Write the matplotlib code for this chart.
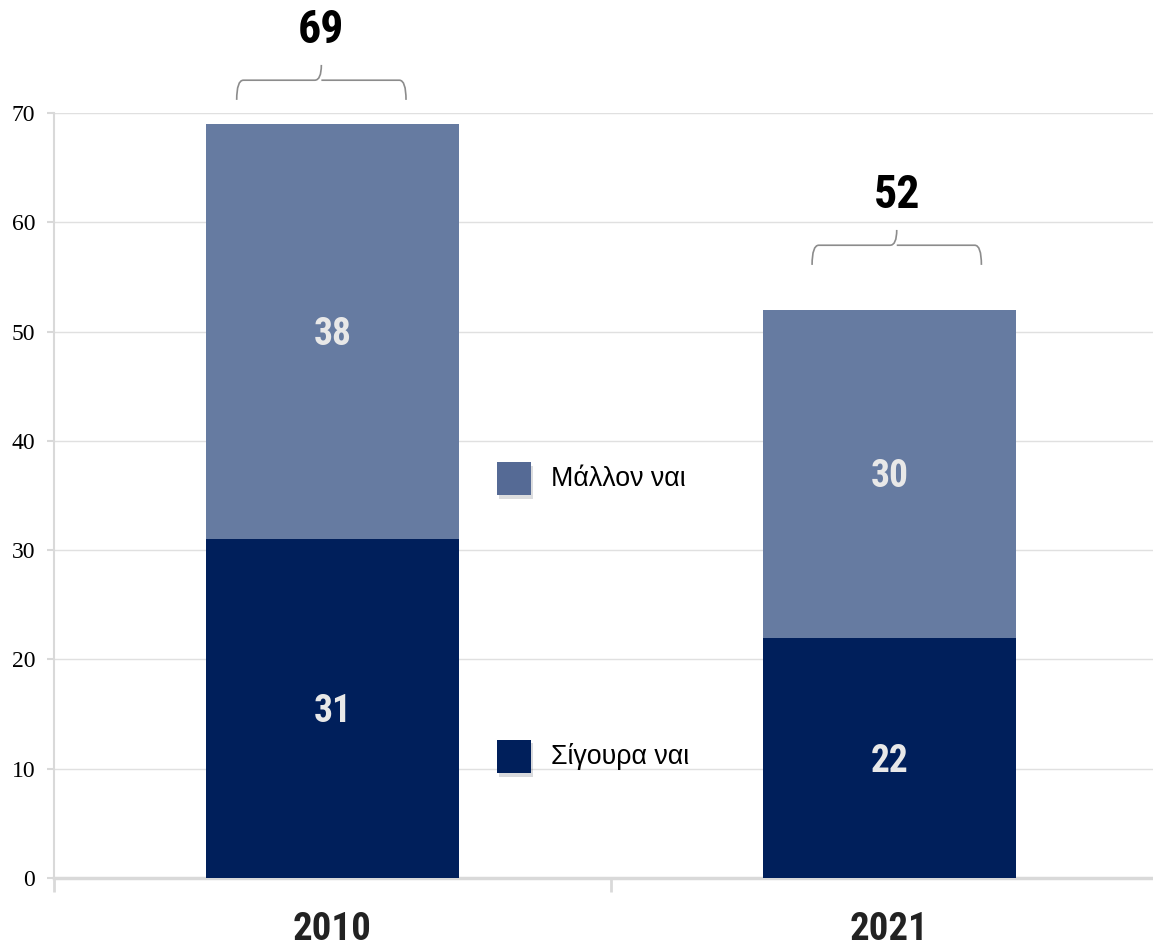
import numpy as np
import matplotlib.pyplot as plt
from matplotlib.path import Path
from matplotlib.patches import PathPatch, Rectangle
import matplotlib.patheffects as pe

years = ['2010', '2021']
sigoura = [31, 22]
mallon = [38, 30]
totals = [69, 52]
series_names = ['Σίγουρα ναι', 'Μάλλον ναι']

dark = '#001f5b'
light = '#667ba1'
cond = ['Roboto Condensed', 'DejaVu Sans']

fig = plt.figure(figsize=(11.53, 9.47), dpi=100)
ax = fig.add_axes([54/1153, 69/947, 1114/1153, 765/947])

x = np.arange(len(years))
w = 0.455
ax.bar(x, sigoura, w, color=dark, zorder=3)
ax.bar(x, mallon, w, bottom=sigoura, color=light, zorder=3)

# values inside the bars
for i in range(len(years)):
    ax.text(x[i], sigoura[i]/2 - 0.3, str(sigoura[i]), ha='center', va='center',
            color='#e8e8e8', fontsize=27, fontweight='bold', family=cond, zorder=4)
    ax.text(x[i], sigoura[i] + mallon[i]/2 - 0.3, str(mallon[i]), ha='center', va='center',
            color='#e8e8e8', fontsize=27, fontweight='bold', family=cond, zorder=4)

# braces with totals
brace_off = [(2.2, 4.0, 5.4, 8.6), (4.1, 5.9, 7.3, 10.5)]
brace_dx = [-0.02, 0.013]
half = 0.152
for i in range(len(years)):
    xm = x[i] + brace_dx[i]
    b0, b1, b2, bl = [totals[i] + o for o in brace_off[i]]
    x0, x1 = xm - half, xm + half
    c = 0.012
    verts = [(x0, b0), (x0, b1), (x0 + c, b1),
             (xm - c, b1), (xm, b1), (xm, b2),
             (xm, b1), (xm + c, b1),
             (x1 - c, b1), (x1, b1), (x1, b0)]
    codes = [Path.MOVETO, Path.CURVE3, Path.CURVE3,
             Path.LINETO, Path.CURVE3, Path.CURVE3,
             Path.MOVETO, Path.CURVE3,
             Path.LINETO, Path.CURVE3, Path.CURVE3]
    ax.add_patch(PathPatch(Path(verts, codes), fill=False, edgecolor='#8c8c8c',
                           lw=1.2, clip_on=False))
    ax.text(xm, bl, str(totals[i]), ha='center', va='center', fontsize=33,
            fontweight='bold', family=cond, color='black', clip_on=False)

# legend drawn inside the plot area
leg_y = [(9.6, 12.63), (35.04, 38.06)]
for (yb, yt), col, name in zip(leg_y, [dark, '#556a95'], series_names):
    r = Rectangle((0.295, yb), 0.061, yt - yb, facecolor=col, zorder=5,
                  path_effects=[pe.SimplePatchShadow(offset=(1.5, -2.5), alpha=0.15),
                                pe.Normal()])
    ax.add_patch(r)
    ax.text(0.392, (yb + yt)/2, name, ha='left', va='center', fontsize=19.3,
            family='Liberation Sans', color='black', zorder=5)

ax.set_xlim(-0.5, 1.5)
ax.set_ylim(0, 70)
ax.set_yticks(range(0, 71, 10))
ax.set_yticklabels([str(v) for v in range(0, 71, 10)], family='Liberation Serif', fontsize=17)
ax.set_xticks(x)
ax.set_xticklabels(years, fontsize=28, fontweight='bold', family=cond, color='#222222')
ax.set_xticks([-0.5, 0.5, 1.5], minor=True)
ax.tick_params(axis='x', which='major', length=0, pad=24)
ax.tick_params(axis='x', which='minor', length=10, width=2, color='#d9d9d9')
ax.tick_params(axis='y', length=5, width=1.5, color='#d9d9d9', pad=8.5)

ax.grid(axis='y', color='#e0e0e0', lw=1, zorder=0)
for s in ['top', 'right']:
    ax.spines[s].set_visible(False)
ax.spines['left'].set_color('#d9d9d9')
ax.spines['left'].set_linewidth(1.5)
ax.spines['bottom'].set_color('#d9d9d9')
ax.spines['bottom'].set_linewidth(2.5)
ax.set_axisbelow(True)

fig.savefig('out.png', dpi=100)
